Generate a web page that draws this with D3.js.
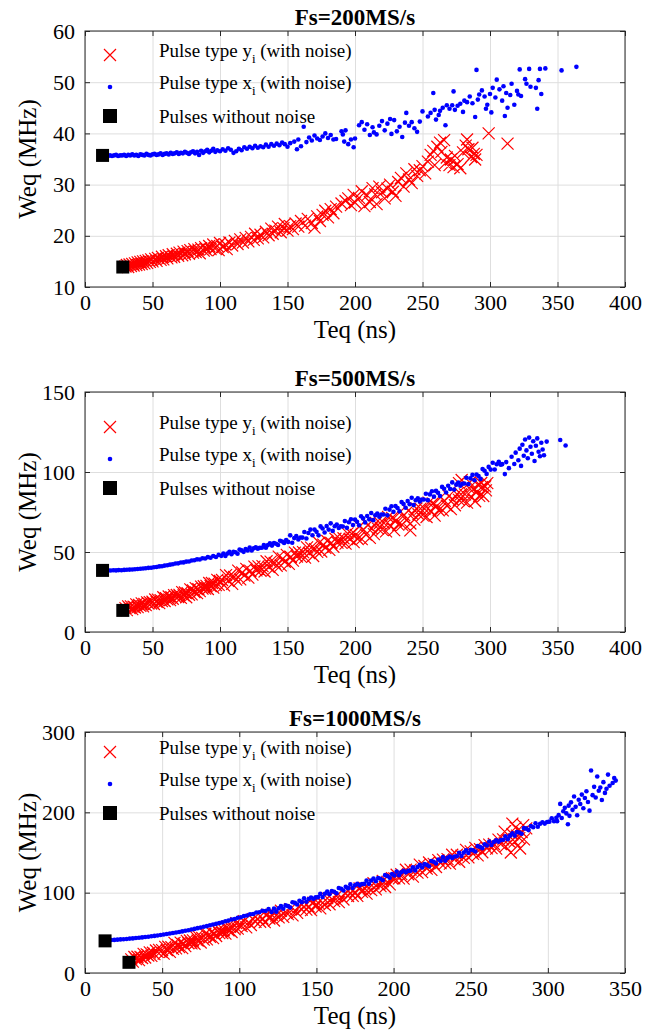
<!DOCTYPE html>
<html><head><meta charset="utf-8">
<script src="https://cdn.jsdelivr.net/npm/d3@7"></script>
<style>
body{margin:0;background:#fff}
svg{display:block}
text{font-family:"Liberation Serif","Times New Roman",serif;fill:#000}
</style>
</head><body><svg id="c" width="656" height="1036"></svg>
<script>
// ---------- labels / ticks ----------
const titles = ["Fs=200MS/s", "Fs=500MS/s", "Fs=1000MS/s"];
const xLabel = "Teq (ns)";
const yLabel = "Weq (MHz)";
const xTicks400 = [0, 50, 100, 150, 200, 250, 300, 350, 400];
const xTicks350 = [0, 50, 100, 150, 200, 250, 300, 350];
const yTicks1 = [10, 20, 30, 40, 50, 60];
const yTicks2 = [0, 50, 100, 150];
const yTicks3 = [0, 100, 200, 300];
const legendNames = ["Pulse type y", "Pulse type x", "Pulses without noise"];

// ---------- data: [Teq (ns), Weq (MHz)] ----------
const p1Clean = [[13, 35.7], [28, 13.9]];
const p1Blue = [[14,35.6],[15.5,35.7],[17,35.6],[18.5,35.7],[20,35.6],[21.5,35.7],[23,35.8],[24.5,35.6],[26,35.7],[27.5,35.7],[29,35.8],[30.5,35.6],[32,35.8],[33.5,35.7],[35,35.9],[36.5,35.7],[38,35.8],[39.5,35.6],[41,35.9],[42.5,35.8],[44,35.7],[45.5,36.0],[47,35.8],[48.5,35.7],[50,35.9],[51.5,36.0],[53,35.8],[54.5,35.9],[56,36.1],[57.5,35.8],[59,36.0],[60.5,36.1],[62,35.9],[63.5,36.2],[65,36.0],[66.5,36.1],[68,36.3],[69.5,36.0],[71,36.2],[72.5,36.1],[74,36.4],[75.5,36.2],[77,36.0],[78.5,36.3],[80,36.5],[81.5,36.1],[83,36.4],[84.5,35.8],[86,36.6],[87.5,36.2],[89,36.5],[90.5,36.8],[92,36.3],[93.5,36.6],[95,37.0],[96.5,36.4],[98,36.7],[100,36.5],
[102,36.9],[104,36.6],[106,37.1],[108,36.8],[110,36.2],[112,36.5],[114,37.0],[116,36.7],[118,37.3],[120,37.0],[122,37.4],[124,37.1],[126,37.6],[128,37.2],[130,37.5],[132,37.3],[134,37.8],[136,37.4],[138,37.9],[140,37.6],[142,38.0],[144,37.7],[146,38.2],[148,37.9],[150,37.4],[152,38.1],
[155,38.4],[157,36.9],[158,38.8],[160,37.5],[162,41.3],[164,38.3],[166,39.2],[168,38.6],[170,39.6],[172,39.0],[174,38.7],[176,39.4],[178,40.0],[180,39.1],[182,39.7],[184,38.8],[186,38.9],[190,40.4],[191,39.8],[192,38.4],[193,40.6],[195,37.9],[197,38.8],[199,37.3],[200,39.0],
[203,41.6],[205,42.2],[207,40.7],[209,41.8],[211,39.7],[213,41.2],[214,40.2],[216,39.8],[218,41.5],[220,42.4],[222,40.6],[224,41.9],[226,42.8],[227,39.9],[229,42.6],[231,40.4],[233,41.3],[235,39.3],[237,42.1],[238,44.0],[240,41.5],[242,42.2],[244,41.0],[246,40.3],[248,42.3],[250,44.3],
[254,43.3],[256,44.0],[258,47.9],[259,44.6],[260,42.7],[262,43.6],[263,44.4],[265,45.0],[267,41.6],[268,45.5],[270,44.8],[272,45.5],[273,48.2],[274,44.6],[276,45.4],[278,45.8],[280,44.2],[281,46.4],[283,46.1],[285,47.2],[287,45.9],[289,43.2],[290,52.4],[291,46.6],[292,47.6],[294,48.4],[296,47.2],[297,44.8],[298,45.6],[300,47.7],
[301,44.1],[302,48.9],[304,47.0],[305,50.5],[307,48.6],[309,46.4],[310,49.2],[311,43.4],[312,47.9],[313,45.0],[315,47.5],[316,49.7],[318,45.6],[320,48.3],[321,47.6],[322,52.5],[323,47.3],[326,50.6],[327,49.7],[329,52.6],[330,49.1],[334,48.9],[335,44.8],[336,50.4],[337,52.6],[338,47.7],[341,52.7],[353,52.3],[364,53.0]];
const p1Red = [[30,14.0],[31,14.3],[32,13.9],[33,14.4],[34,14.1],[35,14.5],[36,14.2],[37,14.6],[38,14.3],[39,14.8],[40,14.4],[41,14.9],[42,14.5],[43,15.0],[44,14.6],[45,15.1],[46,14.7],[47,15.2],[48,14.9],[49,15.4],[50,15.0],[52,15.5],[53,15.1],[54,15.7],[56,15.3],[57,15.9],[58,15.4],[60,16.0],[61,15.6],[62,16.2],[64,15.8],[65,16.4],[66,15.9],[68,16.5],[69,16.1],[70,16.7],[72,16.2],[73,16.9],[74,16.4],[76,17.0],[77,16.5],[78,17.2],[80,16.7],[81,17.4],[82,16.8],[84,17.3],[85,16.6],[86,17.6],[88,17.1],[89,17.8],[90,17.2],[92,18.0],[93,17.4],[95,18.3],[96,17.6],[98,18.0],[99,17.2],[100,18.6],
[102,17.8],[104,18.3],[105,17.4],[107,18.7],[109,18.1],[111,19.0],[113,18.4],[115,19.3],[117,18.7],[119,19.6],[121,18.9],[123,19.8],[125,19.2],[126,20.4],[128,19.5],[130,20.2],[132,19.7],[134,20.8],[136,20.1],[138,21.4],[139,20.4],[141,21.0],[143,21.8],[145,20.7],[147,21.5],[148,22.3],[150,21.0],[152,21.9],
[154,21.3],[156,22.4],[158,21.8],[160,22.9],[163,22.0],[165,23.3],[168,22.5],[170,21.6],[172,23.8],[174,22.9],[176,24.1],[178,24.9],[180,23.6],[182,25.2],[184,24.4],[186,25.7],[190,26.3],[193,26.8],[195,27.3],[197,26.0],[199,28.0],[200,26.5],
[203,27.4],[205,28.7],[207,25.8],[209,27.9],[211,26.6],[213,29.3],[215,28.1],[216,26.2],[218,29.6],[220,28.5],[222,27.3],[224,29.2],[226,30.0],[228,28.6],[230,27.8],[232,30.5],[234,31.3],[236,29.6],[238,32.2],[240,31.0],[242,30.3],[244,33.0],[246,31.7],[248,32.8],[250,33.6],
[252,32.2],[254,34.5],[256,35.8],[258,36.6],[259,33.8],[261,37.4],[263,38.2],[264,36.4],[266,38.7],[267,34.2],[268,35.3],[270,33.8],[271,34.9],[273,33.4],[274,35.6],[276,34.0],[278,33.2],[280,36.3],[282,37.6],[283,38.8],[284,36.9],[286,35.4],[287,37.2],[288,36.0],[289,34.9],[290,35.8],[299,40.0],[313,38.0]];

const p2Clean = [[13, 38.5], [28, 13.5]];
const p2Blue = [[15,38.4],[17,38.5],[19,38.4],[21,38.6],[23,38.5],[25,38.7],[27,38.6],[29,38.8],[31,38.9],[33,39.0],[35,39.1],[37,39.2],[39,39.4],[41,39.5],[43,39.7],[45,39.8],[47,40.1],[49,40.2],[51,40.5],[53,40.6],[55,41.0],[57,41.1],[59,41.5],[61,41.7],[63,42.1],[65,42.3],[67,42.8],[69,42.9],[71,43.4],[73,43.5],[75,44.0],[77,44.1],[79,44.7],[81,44.8],[83,45.4],[85,45.3],[87,46.1],[89,45.9],[91,46.8],[93,46.4],[95,47.5],[97,46.9],[99,48.2],
[101,47.6],[102.5,49.1],[104,47.5],[105.5,49.0],[107,50.1],[108.5,48.6],[110,50.2],[111.5,49.8],[113,48.9],[114.5,51.5],[116,51.0],[117.5,50.1],[119,51.8],[120.5,51.0],[122,52.8],[123.5,50.9],[125,52.3],[126.5,52.9],[128,52.1],[129.5,52.7],[131,52.7],[132.5,54.3],[134,52.7],[135.5,54.3],[137,55.4],[138.5,54.0],[140,55.6],[141.5,55.2],[143,54.4],[144.5,57.0],[146,56.6],[147.5,55.7],[149,57.5],[150.5,56.3],[152,60.4],[153.5,55.8],[155,58.7],[156.5,59.9],[158,57.8],[159.5,59.1],[161,59.0],[162.5,62.5],[164,58.4],[165.5,61.9],[167,64.0],[168.5,60.5],[170,64.0],[171.5,62.6],[173,60.4],[174.5,66.0],[176,64.7],[177.5,62.2],[179,66.2],[180.5,64.0],[182,67.9],[183.5,63.2],[185,66.1],[186.5,67.2],[188,65.0],[189.5,66.1],[191,65.9],[192.5,69.3],[194,65.1],[195.5,68.6],[197,70.5],[198.5,66.9],[200,70.3],
[201.5,68.9],[203,66.7],[204.5,72.3],[206,71.0],[207.5,68.5],[209,72.5],[210.5,70.4],[212,74.4],[213.5,69.9],[215,72.9],[216.5,74.1],[218,72.1],[219.5,73.4],[221,73.4],[222.5,77.0],[224,72.9],[225.5,76.5],[227,78.6],[228.5,75.1],[230,78.7],[231.5,77.5],[233,75.4],[234.5,81.2],[236,80.0],[237.5,77.7],[239,81.8],[240.5,79.8],[242,83.9],[243.5,79.3],[245,82.3],[246.5,83.6],[248,81.6],[249.5,82.8],[251,82.8],[252.5,86.4],[254,82.4],[255.5,86.0],[257,88.0],[258.5,84.6],[260,88.2],[261.5,87.0],[263,85.0],[264.5,90.7],[266,89.5],[267.5,87.2],[269,91.4],[270.5,89.4],[272,93.5],[273.5,89.0],[275,92.1],[276.5,93.4],[278,91.4],[279.5,92.7],[281,92.8],[282.5,96.4],[284,92.4],[285.5,96.0],[287,98.2],[288.5,94.8],[290,98.4],[291.5,97.5],[293,95.7],[294.5,101.8],[296,100.8],[297.5,98.8],[299,103.2],[300.5,101.5],[302,105.8],[303.5,101.6],[305,104.8],[306.5,106.4],[308,104.6],
[309,104.9],[311,98.7],[312,106.2],[314,102.4],[316,109.5],[318,105.0],[319,112.1],[321,107.3],[322,114.6],[323,103.8],[324,117.0],[325,110.2],[326,120.3],[327,113.5],[328,108.6],[329,121.5],[330,115.8],[331,111.4],[332,119.2],[333,106.9],[334,116.4],[335,121.0],[336,112.7],[337,109.8],[338,118.3],[339,114.1],[340,110.5],[342,119.0],[352,120.0],[356,116.6]];
const p2Red = [[30,14.9],[31,13.7],[32,16.0],[33,14.9],[34,16.0],[35,14.3],[36,15.8],[37,15.3],[38,17.3],[39,15.5],[40,17.0],[41,16.3],[42,17.9],[43,16.0],[44,17.5],[45,16.8],[46,18.5],[47,17.8],[48,18.7],[49,17.8],[50,18.9],[51,17.5],[52,20.3],[53,18.8],[54,20.2],[55,18.0],[56,19.9],[57,19.3],[58,21.7],[59,19.4],[60,21.2],[61,20.4],[62,22.2],[63,19.9],[64,21.7],[65,20.8],[66,23.0],[67,22.0],[68,23.1],[69,21.9],[70,23.2],[71,21.3],[72,24.9],[73,22.9],[74,24.7],[75,21.7],[76,24.2],[77,23.3],[78,26.6],[79,23.5],[80,26.0],[81,24.9],[82,27.4],[83,24.3],[84,26.8],[85,25.5],[86,28.4],[87,27.1],[88,28.6],[89,27.1],[90,28.8],[91,26.9],[92,30.6],[93,28.7],[94,30.6],[95,27.7],[96,30.2],[97,29.3],[98,32.6],[99,29.5],[100,32.0],
[101.5,32.5],[103,29.1],[104.5,35.5],[106,32.0],[107.5,35.3],[109,30.1],[110.5,34.4],[112,32.7],[113.5,38.4],[115,32.9],[116.5,37.2],[118,35.2],[119.5,39.5],[121,34.0],[122.5,38.2],[124,35.9],[125.5,40.9],[127,38.5],[128.5,41.0],[130,38.3],[131.5,41.2],[133,37.8],[134.5,44.2],[136,40.7],[137.5,44.0],[139,38.8],[140.5,43.1],[142,41.4],[143.5,47.1],[145,41.6],[146.5,45.9],[148,43.9],[149.5,48.2],[151,42.6],[152.5,46.9],[154,44.6],[155.5,49.6],[157,47.2],[158.5,49.7],[160,47.0],[161.5,49.9],[163,46.5],[164.5,52.9],[166,49.4],[167.5,52.7],[169,47.5],[170.5,51.8],[172,50.1],[173.5,55.8],[175,50.3],[176.5,54.6],[178,52.6],[179.5,56.9],[181,51.3],[182.5,55.6],[184,53.3],[185.5,58.3],[187,55.9],[188.5,58.4],[190,55.7],[191.5,58.6],[193,55.2],[194.5,61.6],[196,58.1],[197.5,61.4],[199,56.2],
[200.5,60.7],[202,58.1],[203.5,66.1],[205,58.0],[206.5,64.0],[208,60.9],[209.5,66.9],[211,58.8],[212.5,64.8],[214,61.2],[215.5,68.2],[217,64.6],[218.5,68.1],[220,64.0],[221.5,68.0],[223,62.9],[224.5,71.9],[226,66.8],[227.5,71.3],[229,63.7],[230.5,69.7],[232,67.1],[233.5,75.1],[235,67.0],[236.5,73.0],[238,69.9],[239.5,75.9],[241,67.8],[242.5,73.8],[244,70.2],[245.5,77.2],[247,73.6],[248.5,77.1],[250,73.0],[251.5,77.0],[253,71.9],[254.5,80.9],[256,75.8],[257.5,80.3],[259,72.7],[260.5,78.7],[262,76.1],[263.5,84.1],[265,76.0],[266.5,82.0],[268,78.9],[269.5,84.9],[271,76.8],[272.5,82.8],[274,79.2],[275.5,86.2],[277,82.6],[278.5,86.1],[280,82.0],[281.5,86.0],[283,80.9],[284.5,89.9],[286,84.8],[287.5,89.3],[289,81.7],[290.5,87.7],[292,85.1],[293.5,93.1],[295,85.0],[296.5,91.0],
[241,63.5],[277,93.0],[279,95.0],[285,93.5],[291,92.0],[294,90.5],[297,88.5],[298,93.0]];

const p3Clean = [[13, 40], [28.5, 13.3]];
const p3Blue = [[15,40.8],[17,41.0],[19,41.2],[21,41.5],[23,41.8],[25,42.1],[27,42.4],[29,42.8],[31,43.1],[33,43.5],[35,43.9],[37,44.3],[39,44.8],[41,45.2],[43,45.7],[45,46.2],[47,46.7],[49,47.3],[51,47.9],[53,48.5],[55,49.1],[57,49.8],[59,50.4],[61,51.1],[63,51.8],[65,52.6],[67,53.3],[69,54.1],[71,54.9],[73,55.8],[75,56.6],[77,57.5],[79,58.4],[81,59.4],[83,60.3],[85,61.2],[87,62.3],[89,63.0],[91,64.5],[93,65.2],[95,66.6],[97,67.3],[99,68.8],[101,69.4],[103,71.0],[105,71.6],[107,73.2],[109,73.5],[111,75.3],[113,75.6],[115,77.4],[117,77.2],[119,79.5],
[121,75.9],[122.5,80.1],[124,76.3],[125.5,80.5],[127,83.2],[128.5,79.9],[130,84.2],[131.5,83.3],[133,81.5],[134.5,88.1],[136,87.3],[137.5,85.2],[139,90.0],[140.5,88.2],[142,93.1],[143.5,88.6],[145,92.2],[146.5,94.0],[148,92.3],[149.5,94.1],[151,94.4],[152.5,98.5],[154,94.5],[155.5,98.7],[157,101.3],[158.5,98.0],[160,102.1],[161.5,101.1],[163,99.3],[164.5,105.8],[166,104.9],[167.5,102.7],[169,107.4],[170.5,105.6],[172,110.3],[173.5,105.8],[175,109.3],[176.5,111.0],[178,109.1],[179.5,110.7],[181,110.9],[182.5,115.0],[184,111.0],[185.5,115.1],[187,117.6],[188.5,114.2],[190,118.3],[191.5,117.3],[193,115.4],[194.5,121.8],[196,120.8],[197.5,118.6],[199,123.3],
[200.5,121.4],[202,126.2],[203.5,121.7],[205,125.3],[206.5,127.1],[208,125.3],[209.5,127.1],[211,127.4],[212.5,131.6],[214,127.7],[215.5,131.9],[217,134.6],[218.5,131.3],[220,135.5],[221.5,134.6],[223,132.8],[224.5,139.4],[226,138.5],[227.5,136.4],[229,141.2],[230.5,139.4],[232,144.2],[233.5,139.7],[235,143.3],[236.5,145.1],[238,143.3],[239.5,145.1],[241,145.4],[242.5,149.6],[244,145.7],[245.5,149.9],[247,152.6],[248.5,149.3],[250,153.5],[251.5,152.8],[253,151.2],[254.5,157.9],[256,157.2],[257.5,155.3],[259,160.3],[260.5,158.7],[262,163.6],[263.5,159.3],[265,163.1],[266.5,165.1],[268,163.5],[269.5,165.4],[271,165.9],[272.5,170.3],[274,166.6],[275.5,171.0],[277,174.0],[278.5,171.0],[280,175.5],[281.5,174.9],[283,173.4],[284.5,180.3],[286,179.7],[287.5,177.9],[289,183.0],[290.5,181.4],[292,186.4],[293.5,182.0],[295,185.8],[296.5,187.7],[298,186.0],[299.5,188.0],[301,188.4],[302.5,192.7],[304,188.9],[305.5,193.3],
[306,189.0],[307,196.5],[308,210.5],[309,193.0],[310,201.4],[311,205.6],[312,198.7],[313,185.2],[313.5,208.3],[314,195.6],[315,212.4],[316,203.1],[317,219.7],[318,206.8],[319,196.4],[320,215.6],[321,210.3],[322,222.1],[323,205.0],[324,217.8],[325,226.3],[326,212.9],[327,202.1],[328,252.0],[329,221.4],[330,231.7],[331,218.5],[332,244.6],[333,226.8],[334,230.9],[335,215.3],[336,237.6],[337,224.2],[338,229.4],[339,247.0],[340,233.1],[342,236.5],[343,242.8],[344,239.5]];
const p3Red = [[30,16.9],[31,14.2],[32,19.9],[33,17.2],[34,20.2],[35,16.0],[36,19.9],[37,18.7],[38,23.8],[39,19.3],[40,23.2],[41,21.8],[42,25.7],[43,21.3],[44,25.2],[45,23.5],[46,28.0],[47,26.3],[48,28.7],[49,26.7],
[50,28.4],[51,24.2],[52,32.6],[53,28.4],[54,32.7],[55,26.3],[56,32.0],[57,30.0],[58,37.5],[59,30.6],[60,34.8],[61,32.3],[62,37.9],[63,30.9],[64,36.4],[65,33.5],[66,40.0],[67,37.0],[68,40.4],[69,36.9],[70,40.7],[71,36.4],[72,44.7],[73,40.3],[74,44.6],[75,38.0],[76,43.6],[77,41.5],[78,48.9],[79,41.9],[80,47.5],[81,44.9],[82,50.5],[83,43.5],[84,49.1],[85,46.1],[86,52.6],[87,49.7],[88,53.0],[89,49.6],[90,53.4],[91,49.1],[92,57.5],[93,53.2],[94,57.5],[95,51.0],[96,56.7],[97,54.7],[98,62.1],[99,55.2],[100,60.8],
[101.5,58.3],[103,64.5],[104.5,56.8],[106,63.0],[107.5,59.8],[109,67.0],[110.5,63.8],[112,67.5],[113.5,63.8],[115,68.0],[116.5,63.3],[118,72.5],[119.5,67.8],[121,72.5],[122.5,65.3],[124,71.5],[125.5,69.3],[127,77.5],[128.5,69.8],[130,76.0],[131.5,73.3],[133,79.5],[134.5,71.8],[136,78.0],[137.5,74.8],[139,82.0],[140.5,78.8],[142,82.5],[143.5,78.8],[145,83.0],[146.5,78.3],[148,87.5],[149.5,82.8],[151,87.6],[152.5,80.5],[154,86.9],[155.5,84.8],[157,93.2],[158.5,85.6],[160,92.0],[161.5,89.4],[163,95.8],[164.5,88.2],[166,94.6],[167.5,91.5],[169,98.9],[170.5,95.8],[172,99.7],[173.5,96.1],[175,100.5],[176.5,96.0],[178,105.4],[179.5,100.9],[181,105.8],[182.5,98.8],[184,105.3],[185.5,103.2],[187,111.7],[188.5,104.1],[190,110.6],[191.5,108.1],[193,114.5],[194.5,107.0],[196,113.4],[197.5,110.4],[199,117.9],
[200.5,117.7],[202,122.3],[203.5,117.8],[205,123.0],[206.5,117.4],[208,128.5],[209.5,122.9],[211,128.6],[212.5,120.0],[214,127.6],[215.5,124.9],[217,134.9],[218.5,125.6],[220,133.2],[221.5,130.0],[223,137.5],[224.5,128.3],[226,135.8],[227.5,131.9],[229,140.6],[230.5,136.7],[232,141.2],[233.5,136.7],[235,141.8],[236.5,136.1],[238,147.2],[239.5,141.5],[241,147.2],[242.5,138.5],[244,146.0],[245.5,143.3],[247,153.2],[248.5,143.9],[250,151.4],[251.5,148.2],[253,155.7],[254.5,146.5],[256,154.1],[257.5,150.3],[259,159.1],[260.5,155.2],[262,159.8],[263.5,155.4],[265,160.6],[266.5,154.9],[268,166.1],[269.5,160.5],[271,166.3],[272.5,157.7],[274,165.3],[275.5,162.7],[277,172.7],[278.5,163.5],[280,171.1],[281.5,167.9],[283,175.5],[284.5,166.3],
[272,176.0],[276,150.0],[277,186.0],[279,181.0],[282,155.0],[284,184.0],[286,180.0]];

// ---------- layout ----------
const LEFT = 85, RIGHT = 625;
const panels = [
  {title: titles[0], top: 31,  bottom: 287, xMax: 400, xTicks: xTicks400, yDom: [10, 60], yTicks: yTicks1, red: p1Red, blue: p1Blue, clean: p1Clean, leg: [55, 87, 116]},
  {title: titles[1], top: 392, bottom: 632, xMax: 400, xTicks: xTicks400, yDom: [0, 150], yTicks: yTicks2, red: p2Red, blue: p2Blue, clean: p2Clean, leg: [427, 459, 488]},
  {title: titles[2], top: 732, bottom: 973, xMax: 350, xTicks: xTicks350, yDom: [0, 300], yTicks: yTicks3, red: p3Red, blue: p3Blue, clean: p3Clean, leg: [752, 784, 813]}
];

const svg = d3.select("#c");
const AX = "#262626", GRID = "#dedede";
const xPath = (cx, cy, r) => `M${cx - r},${cy - r}L${cx + r},${cy + r}M${cx - r},${cy + r}L${cx + r},${cy - r}`;

panels.forEach(p => {
  const x = d3.scaleLinear().domain([0, p.xMax]).range([LEFT, RIGHT]);
  const y = d3.scaleLinear().domain(p.yDom).range([p.bottom, p.top]);
  const g = svg.append("g");
  const h = p.bottom - p.top, w = RIGHT - LEFT;

  // grid
  g.append("g").attr("transform", `translate(0,${p.bottom})`)
    .call(d3.axisBottom(x).tickValues(p.xTicks).tickSize(-h).tickFormat(""))
    .call(s => { s.select(".domain").remove(); s.selectAll("line").attr("stroke", GRID); });
  g.append("g").attr("transform", `translate(${LEFT},0)`)
    .call(d3.axisLeft(y).tickValues(p.yTicks).tickSize(-w).tickFormat(""))
    .call(s => { s.select(".domain").remove(); s.selectAll("line").attr("stroke", GRID); });

  // data
  const plot = g.append("g");
  plot.append("path")
    .attr("d", p.red.map(d => xPath(x(d[0]), y(d[1]), 6)).join(""))
    .attr("stroke", "#ff0000").attr("stroke-width", 1.2).attr("fill", "none");
  plot.selectAll("circle.b").data(p.blue).join("circle")
    .attr("cx", d => x(d[0])).attr("cy", d => y(d[1])).attr("r", 2.3).attr("fill", "#0000ff");
  plot.selectAll("rect.k").data(p.clean).join("rect")
    .attr("x", d => x(d[0]) - 6.5).attr("y", d => y(d[1]) - 6.5)
    .attr("width", 13).attr("height", 13).attr("fill", "#000");

  // axes with inward ticks
  const styleAxis = s => {
    s.select(".domain").remove();
    s.selectAll("line").attr("stroke", AX);
    s.selectAll("text").attr("font-size", 22).attr("fill", "#000")
      .attr("font-family", '"Liberation Serif","Times New Roman",serif');
  };
  g.append("g").attr("transform", `translate(0,${p.bottom})`)
    .call(d3.axisBottom(x).tickValues(p.xTicks).tickSize(-5).tickPadding(7)).call(styleAxis);
  g.append("g").attr("transform", `translate(0,${p.top})`)
    .call(d3.axisTop(x).tickValues(p.xTicks).tickSize(-5).tickFormat("")).call(styleAxis);
  g.append("g").attr("transform", `translate(${LEFT},0)`)
    .call(d3.axisLeft(y).tickValues(p.yTicks).tickSize(-5).tickPadding(10)).call(styleAxis);
  g.append("g").attr("transform", `translate(${RIGHT},0)`)
    .call(d3.axisRight(y).tickValues(p.yTicks).tickSize(-5).tickFormat("")).call(styleAxis);
  g.append("rect").attr("x", LEFT).attr("y", p.top).attr("width", w).attr("height", h)
    .attr("fill", "none").attr("stroke", AX).attr("stroke-width", 1);

  // title and axis labels
  g.append("text").attr("x", (LEFT + RIGHT) / 2).attr("y", p.top - 6)
    .attr("text-anchor", "middle").attr("font-size", 23).attr("font-weight", "bold").text(p.title);
  g.append("text").attr("x", (LEFT + RIGHT) / 2).attr("y", p.bottom + 51)
    .attr("text-anchor", "middle").attr("font-size", 25).text(xLabel);
  g.append("text").attr("transform", `translate(36,${(p.top + p.bottom) / 2}) rotate(-90)`)
    .attr("text-anchor", "middle").attr("font-size", 25).text(yLabel);

  // legend
  const lx = 110, tx = 159;
  g.append("path").attr("d", xPath(lx, p.leg[0], 6)).attr("stroke", "#ff0000").attr("stroke-width", 1.2).attr("fill", "none");
  g.append("circle").attr("cx", lx).attr("cy", p.leg[1]).attr("r", 2.3).attr("fill", "#0000ff");
  g.append("rect").attr("x", lx - 7).attr("y", p.leg[2] - 7).attr("width", 14).attr("height", 14).attr("fill", "#000");
  [0, 1].forEach(i => {
    const t = g.append("text").attr("x", tx).attr("y", p.leg[i] + 2).attr("font-size", 19);
    t.append("tspan").text(legendNames[i]);
    t.append("tspan").attr("dy", 6).attr("font-size", 13).text("i");
    t.append("tspan").attr("dy", -6).text(" (with noise)");
  });
  g.append("text").attr("x", tx).attr("y", p.leg[2] + 7).attr("font-size", 19).text(legendNames[2]);
});
</script>
</body></html>
